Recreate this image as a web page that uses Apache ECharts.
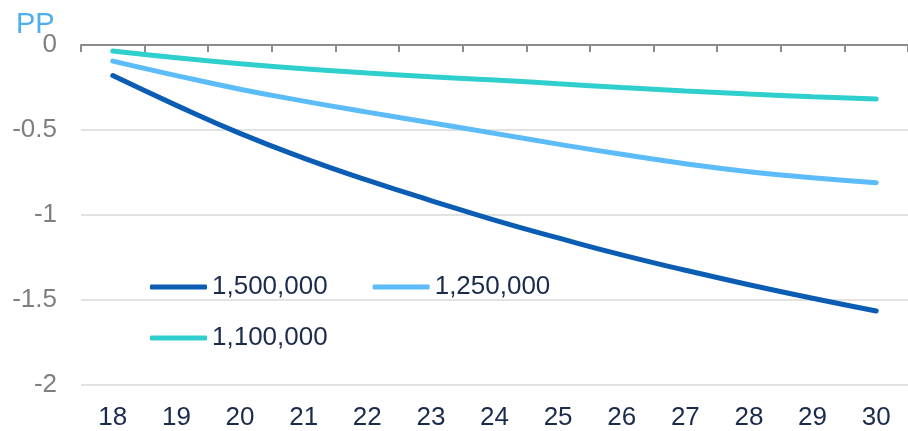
<!DOCTYPE html>
<html>
<head>
<meta charset="utf-8">
<script src="https://cdn.jsdelivr.net/npm/echarts@6/dist/echarts.min.js"></script>
<style>html,body{margin:0;padding:0;background:#fff;}#c{width:908px;height:431px;}</style>
</head>
<body>
<div id="c"></div>
<script>
const categories = ['18','19','20','21','22','23','24','25','26','27','28','29','30'];
const seriesNames = ['1,500,000','1,250,000','1,100,000'];
const s1500 = [-0.18,-0.355,-0.52,-0.665,-0.795,-0.915,-1.03,-1.135,-1.235,-1.325,-1.41,-1.49,-1.565];
const s1250 = [-0.095,-0.18,-0.26,-0.33,-0.395,-0.457,-0.52,-0.583,-0.643,-0.698,-0.745,-0.781,-0.81];
const s1100 = [-0.035,-0.075,-0.11,-0.14,-0.165,-0.187,-0.206,-0.228,-0.25,-0.27,-0.288,-0.304,-0.318];
const yTicks = { min: -2, max: 0, interval: 0.5 };
const colors = ['#0a5db3','#5cbcfa','#2ecfcd'];

const font = '"Liberation Sans", Arial, sans-serif';
const chart = echarts.init(document.getElementById('c'), null, {renderer:'canvas'});
const mk = (name, data, i) => ({
  name, type:'line', data, xAxisIndex:0, yAxisIndex:0,
  smooth:true, symbol:'none', showSymbol:false,
  lineStyle:{width:5, color:colors[i], cap:'round'},
  itemStyle:{color:colors[i]}, z: 3 - i
});
const legendBase = {orient:'horizontal', icon:'roundRect', itemWidth:57, itemHeight:5, itemGap:45, itemTextGap:10,
  textStyle:{fontSize:26, color:'#1b2b4b', fontFamily:font}};
chart.setOption({
  animation:false,
  textStyle:{fontFamily:font},
  title:{text:'PP', left:11, top:5, textStyle:{fontSize:29, fontWeight:'normal', color:'#4db0ec', fontFamily:font}},
  grid:{left:81, top:45, width:832, height:340, containLabel:false},
  legend:[
    Object.assign({data:[seriesNames[0], seriesNames[1]], left:145, top:269}, legendBase),
    Object.assign({data:[seriesNames[2]], left:145, top:320}, legendBase)
  ],
  xAxis:[
    {type:'category', data:categories, position:'bottom', boundaryGap:true,
     axisLine:{show:false}, axisTick:{show:false}, splitLine:{show:false},
     axisLabel:{fontSize:26, color:'#1b2b4b', margin:20, fontFamily:font}},
    {type:'category', data:categories, position:'top', boundaryGap:true,
     axisLine:{show:true, onZero:false, lineStyle:{color:'#8c8c8c', width:2}},
     axisTick:{show:true, inside:true, length:7, lineStyle:{color:'#8c8c8c', width:2}},
     axisLabel:{show:false}, splitLine:{show:false}}
  ],
  yAxis:{type:'value', min:yTicks.min, max:yTicks.max, interval:yTicks.interval,
    axisLine:{show:false}, axisTick:{show:false},
    splitLine:{lineStyle:{color:'#d9d9d9', width:1.5}},
    axisLabel:{fontSize:26, color:'#7f7f7f', margin:24, fontFamily:font}},
  series:[mk(seriesNames[0], s1500, 0), mk(seriesNames[1], s1250, 1), mk(seriesNames[2], s1100, 2)]
});
</script>
</body>
</html>
